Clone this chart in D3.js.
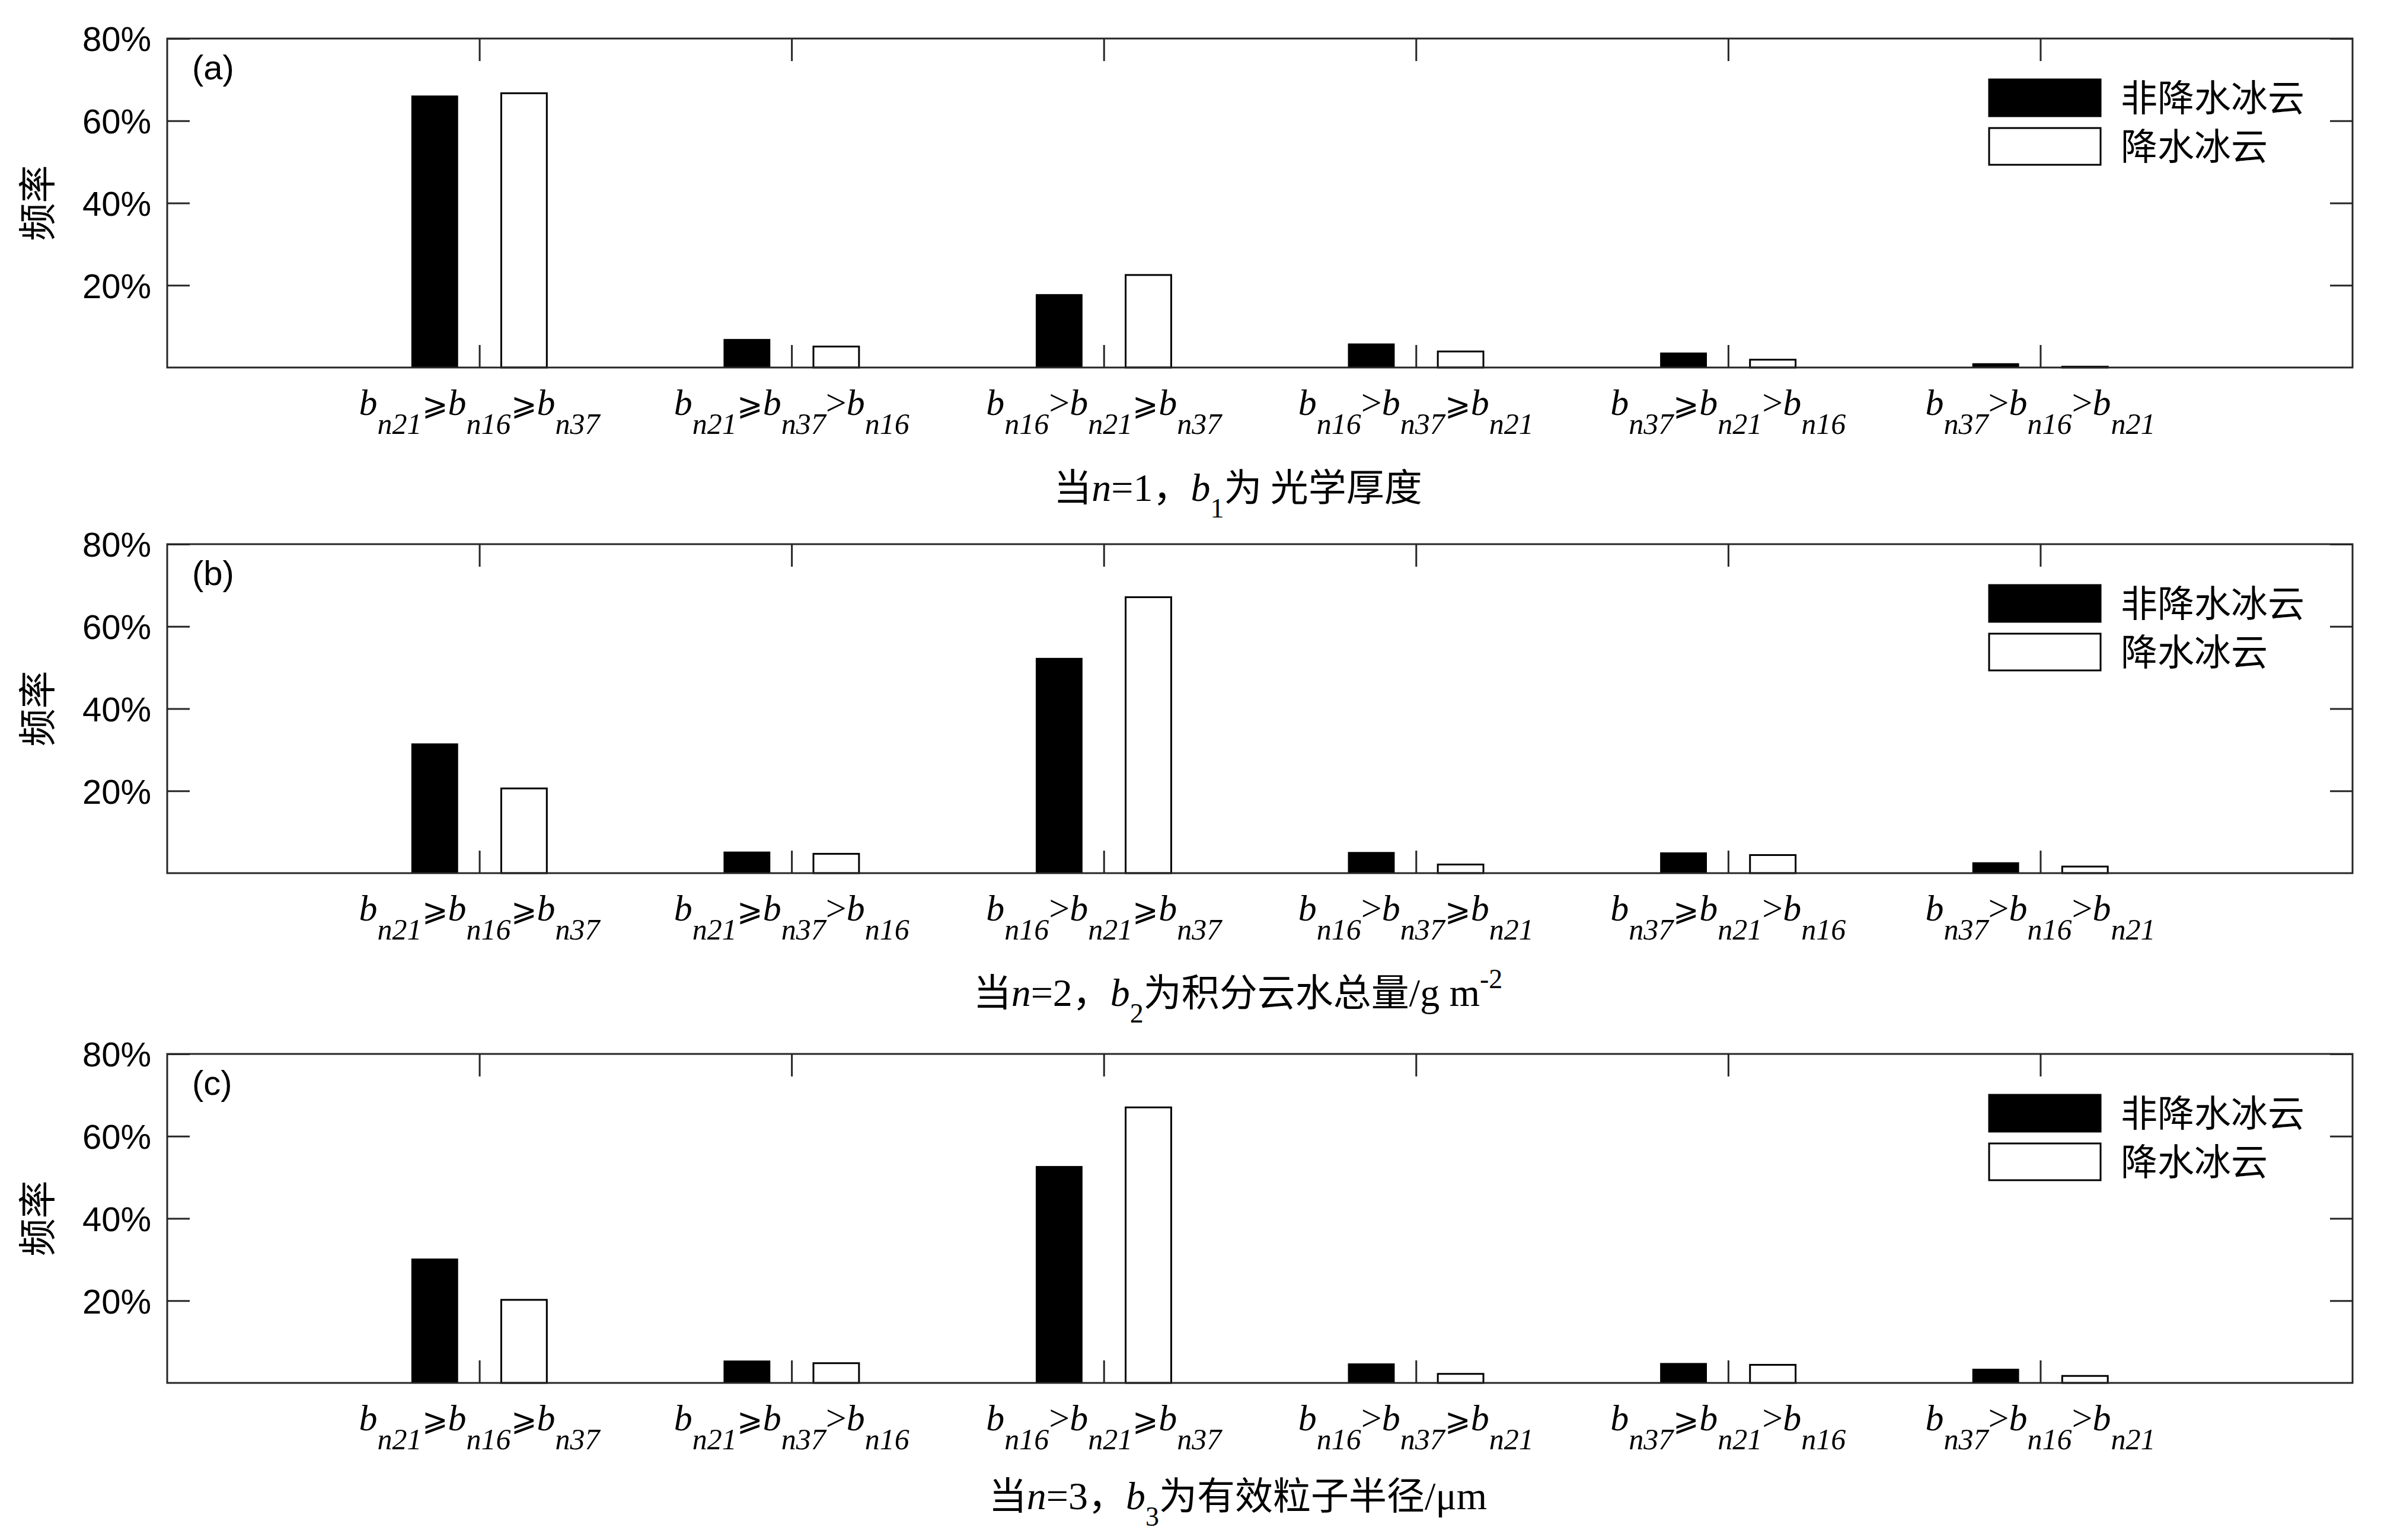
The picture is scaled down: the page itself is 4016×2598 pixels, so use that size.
<!DOCTYPE html>
<html>
<head>
<meta charset="utf-8">
<title>频率 bars</title>
<style>
  body { margin: 0; background: #fff; }
  .cjk { font-family: "Noto Sans CJK SC", sans-serif; }
  .tm { font-family: "Liberation Serif", "Times New Roman", serif; }
</style>
</head>
<body>
<script src="https://cdn.jsdelivr.net/npm/d3@7"></script>
<script>
// values (%)
var categories = [
  ["n21", "\u2A7E", "n16", "\u2A7E", "n37"],
  ["n21", "\u2A7E", "n37", ">", "n16"],
  ["n16", ">", "n21", "\u2A7E", "n37"],
  ["n16", ">", "n37", "\u2A7E", "n21"],
  ["n37", "\u2A7E", "n21", ">", "n16"],
  ["n37", ">", "n16", ">", "n21"]
];
var nonPrecipA = [66.0, 6.8, 17.7, 5.7, 3.5, 0.9];
var precipA    = [66.7, 5.1, 22.5, 3.9, 1.9, 0.2];
var nonPrecipB = [31.4, 5.1, 52.2, 5.0, 4.9, 2.5];
var precipB    = [20.6, 4.7, 67.1, 2.1, 4.4, 1.6];
var nonPrecipC = [30.1, 5.3, 52.6, 4.6, 4.7, 3.3];
var precipC    = [20.2, 4.8, 67.0, 2.2, 4.4, 1.7];
var yTicks = [20, 40, 60, 80];
var legendLabels = ["非降水冰云", "降水冰云"];

var width = 4016, height = 2598;
var left = 282, right = 3968;
var axisColor = "#262626";

var svg = d3.select("body").append("svg")
    .attr("width", width).attr("height", height);

var x = d3.scaleLinear().domain([0, 7]).range([left, right]);
var barW = 0.146, barOff = 0.143;

var panels = [
  { tag: "(a)", top: 65,   bottom: 620,  non: nonPrecipA, pre: precipA, titleY: 845,
    title: [["当", "cjk"], ["n", "it"], ["=1", "tm"], ["，", "cjk"], ["b", "it"], ["1", "sub"], ["为 光学厚度", "cjk"]] },
  { tag: "(b)", top: 918,  bottom: 1473, non: nonPrecipB, pre: precipB, titleY: 1697,
    title: [["当", "cjk"], ["n", "it"], ["=2", "tm"], ["，", "cjk"], ["b", "it"], ["2", "sub"], ["为积分云水总量", "cjk"], ["/g m", "tm"], ["-2", "sup"]] },
  { tag: "(c)", top: 1778, bottom: 2333, non: nonPrecipC, pre: precipC, titleY: 2546,
    title: [["当", "cjk"], ["n", "it"], ["=3", "tm"], ["，", "cjk"], ["b", "it"], ["3", "sub"], ["为有效粒子半径", "cjk"], ["/μm", "tm"]] }
];

panels.forEach(function(p) {
  var y = d3.scaleLinear().domain([0, 80]).range([p.bottom, p.top]);
  var g = svg.append("g");

  // bars
  g.selectAll(".non").data(p.non).enter().append("rect")
    .attr("x", function(d, i) { return x(i + 1 - barOff - barW / 2); })
    .attr("width", x(barW) - x(0))
    .attr("y", function(d) { return y(d); })
    .attr("height", function(d) { return y(0) - y(d); })
    .attr("fill", "#000").attr("stroke", "#000").attr("stroke-width", 2);
  g.selectAll(".pre").data(p.pre).enter().append("rect")
    .attr("x", function(d, i) { return x(i + 1 + barOff - barW / 2); })
    .attr("width", x(barW) - x(0))
    .attr("y", function(d) { return y(d); })
    .attr("height", function(d) { return y(0) - y(d); })
    .attr("fill", "#fff").attr("stroke", "#000").attr("stroke-width", 3);

  // axes, ticks inward on all four sides
  var xt = d3.range(1, 7);
  var ax = [
    g.append("g").attr("transform", "translate(0," + p.bottom + ")")
      .call(d3.axisBottom(x).tickValues(xt).tickSize(-38).tickFormat("")),
    g.append("g").attr("transform", "translate(0," + p.top + ")")
      .call(d3.axisTop(x).tickValues(xt).tickSize(-38).tickFormat("")),
    g.append("g").attr("transform", "translate(" + right + ",0)")
      .call(d3.axisRight(y).tickValues(yTicks).tickSize(-38).tickFormat("")),
    g.append("g").attr("transform", "translate(" + left + ",0)")
      .call(d3.axisLeft(y).tickValues(yTicks).tickSize(-38).tickPadding(27)
        .tickFormat(function(d) { return d + "%"; }))
  ];
  ax.forEach(function(a) {
    a.select(".domain").remove();
    a.selectAll(".tick line").attr("stroke", axisColor).attr("stroke-width", 3);
    a.selectAll(".tick text").attr("fill", "#000")
      .style("font-family", "'Liberation Sans', Arial, sans-serif")
      .style("font-size", "58px").attr("dy", "0.36em");
  });

  g.append("rect").attr("x", left).attr("y", p.top)
    .attr("width", right - left).attr("height", p.bottom - p.top)
    .attr("fill", "none").attr("stroke", axisColor).attr("stroke-width", 3);

  g.append("text").attr("x", 324).attr("y", p.top + 69)
    .style("font-family", "'Liberation Sans', Arial, sans-serif")
    .style("font-size", "58px").text(p.tag);

  // y label
  g.append("text").attr("class", "cjk")
    .attr("transform", "translate(86," + ((p.top + p.bottom) / 2) + ") rotate(-90)")
    .attr("text-anchor", "middle").style("font-size", "64px").text("频率");

  // x tick labels b_{..} rel b_{..} rel b_{..}
  categories.forEach(function(c, i) {
    var t = g.append("text").attr("class", "tm")
      .attr("x", x(i + 1)).attr("y", p.bottom + 80)
      .attr("text-anchor", "middle").style("font-style", "italic").style("font-size", "62px");
    for (var k = 0; k < 3; k++) {
      t.append("tspan").attr("dy", 0).text("b");
      t.append("tspan").attr("dy", 32).style("font-size", "50px").text(c[k * 2]);
      if (k < 2) {
        var rel = c[k * 2 + 1];
        t.append("tspan").attr("dy", -32).style("font-style", "normal")
          .style("font-family", rel === ">" ? null : "'DejaVu Serif', serif")
          .style("font-size", rel === ">" ? "62px" : "52px")
          .text(rel);
      }
    }
  });

  // x title
  var tt = g.append("text").attr("x", 2088).attr("y", p.titleY)
    .attr("text-anchor", "middle").style("font-size", "64px");
  var shift = 0;
  p.title.forEach(function(part) {
    var s = tt.append("tspan").text(part[0]);
    var dy = 0;
    if (part[1] === "cjk") s.attr("class", "cjk");
    else s.attr("class", "tm").style("font-size", "66px");
    if (part[1] === "it") s.style("font-style", "italic");
    if (part[1] === "sub") { s.style("font-size", "46px"); dy = 28; }
    if (part[1] === "sup") { s.style("font-size", "46px"); dy = -30; }
    s.attr("dy", dy - shift);
    shift = dy;
  });

  // legend
  var lg = g.append("g").attr("transform", "translate(3355," + (p.top + 69) + ")");
  lg.selectAll("rect").data(legendLabels).enter().append("rect")
    .attr("x", 0).attr("y", function(d, i) { return i * 82; })
    .attr("width", 188).attr("height", 62)
    .attr("fill", function(d, i) { return i === 0 ? "#000" : "#fff"; })
    .attr("stroke", "#000").attr("stroke-width", 3);
  lg.selectAll("text").data(legendLabels).enter().append("text")
    .attr("class", "cjk").attr("x", 222).attr("y", function(d, i) { return i * 82 + 54; })
    .style("font-size", "62px").text(function(d) { return d; });
});
</script>
</body>
</html>
